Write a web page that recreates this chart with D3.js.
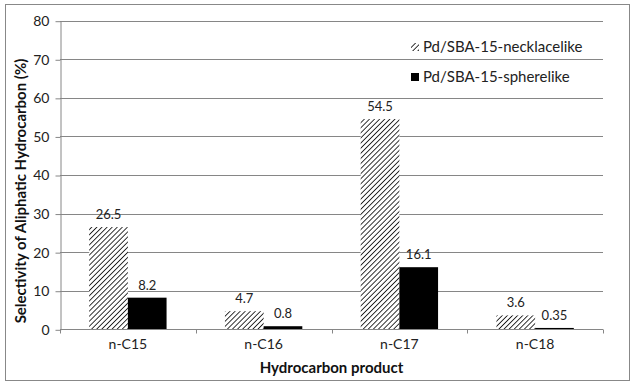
<!DOCTYPE html>
<html>
<head>
<meta charset="utf-8">
<script src="https://cdn.jsdelivr.net/npm/d3@7"></script>
<style>
  body { margin: 0; background: #fff; }
  text { font-family: Lato, "Open Sans", sans-serif; }
</style>
</head>
<body>
<div id="graph"></div>
<script>
var categories = ['n-C15', 'n-C16', 'n-C17', 'n-C18']
var seriesNames = ['Pd/SBA-15-necklacelike', 'Pd/SBA-15-spherelike']
var necklace = [26.5, 4.7, 54.5, 3.6]
var sphere = [8.2, 0.8, 16.1, 0.35]
var yTicks = [0, 10, 20, 30, 40, 50, 60, 70, 80]

var font = 'Lato, "Open Sans", sans-serif'
var width = 634, height = 385
var svg = d3.select('#graph').append('svg')
  .attr('width', width).attr('height', height)

var defs = svg.append('defs')
var pat = defs.append('pattern')
  .attr('id', 'hatch')
  .attr('patternUnits', 'userSpaceOnUse')
  .attr('width', 3.6).attr('height', 3.6)
  .attr('patternTransform', 'rotate(45)')
pat.append('rect').attr('width', 3.6).attr('height', 3.6).attr('fill', '#fff')
pat.append('line')
  .attr('x1', 0).attr('y1', 0).attr('x2', 0).attr('y2', 3.6)
  .attr('stroke', '#000').attr('stroke-width', 1.6)

// outer frame
svg.append('rect')
  .attr('x', 5.5).attr('y', 4.5).attr('width', 624).attr('height', 376)
  .attr('fill', '#fff').attr('stroke', '#888').attr('stroke-width', 1)

var plot = {left: 60, right: 603, top: 20.7, bottom: 329.3}

var x = d3.scaleBand().domain(categories).range([plot.left, plot.right])
  .paddingInner(0.43).paddingOuter(0.215)
var xs = d3.scaleBand().domain([0, 1]).range([0, x.bandwidth()])
var y = d3.scaleLinear().domain([0, 80]).range([plot.bottom, plot.top])

// gridlines
svg.append('g').selectAll('line').data(yTicks.slice(1)).join('line')
  .attr('x1', plot.left).attr('x2', plot.right)
  .attr('y1', d => Math.round(y(d)) + 0.5).attr('y2', d => Math.round(y(d)) + 0.5)
  .attr('stroke', '#868686')

// y axis
var yAxis = svg.append('g')
  .attr('transform', `translate(${plot.left + 0.5},0.5)`)
  .call(d3.axisLeft(y).tickValues(yTicks).tickSize(5).tickPadding(6).tickSizeOuter(0))
yAxis.select('.domain').attr('stroke', '#868686')
yAxis.selectAll('.tick line').attr('stroke', '#868686')
yAxis.selectAll('.tick text').attr('font-size', 14).attr('fill', '#222')
  .attr('font-family', font)

// bars
var groups = svg.append('g').selectAll('g').data(categories).join('g')
  .attr('transform', d => `translate(${x(d)},0)`)

var data = categories.map((c, i) => [necklace[i], sphere[i]])

groups.selectAll('rect').data((d, i) => data[i]).join('rect')
  .attr('x', (d, j) => xs(j))
  .attr('width', xs.bandwidth())
  .attr('y', d => y(d))
  .attr('height', d => y(0) - y(d))
  .attr('fill', (d, j) => j == 0 ? 'url(#hatch)' : '#000')

groups.selectAll('text').data((d, i) => data[i]).join('text')
  .attr('x', (d, j) => xs(j) + xs.bandwidth()/2)
  .attr('y', d => y(d) - 8)
  .attr('text-anchor', 'middle')
  .attr('font-size', 13)
  .attr('fill', '#222')
  .text(d => d)

// x axis
var xAxis = svg.append('g')
  .attr('transform', `translate(0,${Math.round(plot.bottom) + 0.5})`)
  .call(d3.axisBottom(x).tickSize(0).tickPadding(10))
xAxis.select('.domain').remove()
xAxis.selectAll('.tick text').attr('font-size', 14).attr('fill', '#222')
  .attr('font-family', font)
xAxis.append('line')
  .attr('x1', plot.left).attr('x2', plot.right)
  .attr('stroke', '#868686')
var step = x.step()
xAxis.selectAll('.sep').data(d3.range(5)).join('line')
  .attr('class', 'sep')
  .attr('x1', i => Math.round(plot.left + i*step) + 0.5)
  .attr('x2', i => Math.round(plot.left + i*step) + 0.5)
  .attr('y1', 0).attr('y2', 4)
  .attr('stroke', '#868686')

// axis titles
svg.append('text')
  .attr('x', (plot.left + plot.right)/2).attr('y', 373)
  .attr('text-anchor', 'middle')
  .attr('font-size', 15).attr('font-weight', 'bold').attr('fill', '#111')
  .text('Hydrocarbon product')

svg.append('text')
  .attr('transform', `translate(26,191) rotate(-90)`)
  .attr('text-anchor', 'middle')
  .attr('font-size', 15).attr('font-weight', 'bold').attr('fill', '#111')
  .text('Selectivity of Aliphatic Hydrocarbon (%)')

// legend
var legend = svg.append('g').selectAll('g').data(seriesNames).join('g')
  .attr('transform', (d, i) => `translate(411,${47 + i*30})`)
legend.append('rect')
  .attr('x', 0).attr('y', -4).attr('width', 8).attr('height', 8)
  .attr('fill', (d, i) => i == 0 ? 'url(#hatch)' : '#000')
legend.append('text')
  .attr('x', 12).attr('y', 5)
  .attr('font-size', 15).attr('fill', '#222')
  .text(d => d)
</script>
</body>
</html>
